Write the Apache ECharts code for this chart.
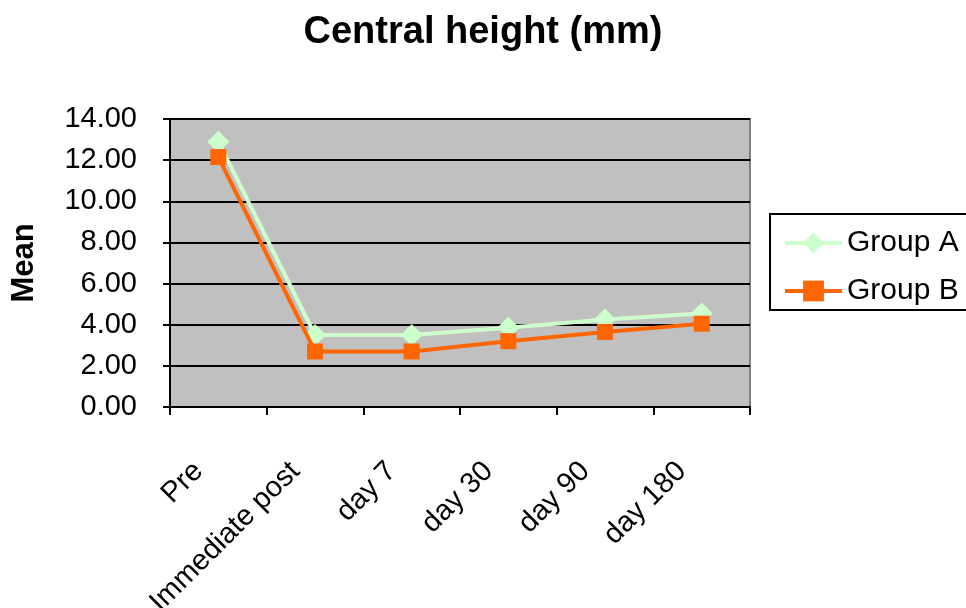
<!DOCTYPE html>
<html>
<head>
<meta charset="utf-8">
<script src="https://cdn.jsdelivr.net/npm/echarts@6/dist/echarts.min.js"></script>
<style>
  html, body { margin: 0; padding: 0; background: #ffffff; }
  #chart { width: 966px; height: 608px; }
</style>
</head>
<body>
<div id="chart"></div>
<script>
// Time points of the measurement
var categories = ['Pre', 'Immediate post', 'day 7', 'day 30', 'day 90', 'day 180'];
// Mean central height (mm) per group
var groupA = [12.9, 3.5, 3.5, 3.85, 4.25, 4.55];
var groupB = [12.15, 2.7, 2.7, 3.2, 3.65, 4.05];
var yTicks = { min: 0, max: 14, interval: 2 };

var chart = echarts.init(document.getElementById('chart'), null, { renderer: 'canvas' });
var FONT = 'Liberation Sans, Arial, sans-serif';

chart.setOption({
  backgroundColor: '#ffffff',
  animation: false,
  title: {
    text: 'Central height (mm)',
    left: 'center',
    top: 14,
    textStyle: { fontFamily: FONT, fontSize: 38, fontWeight: 'bold', color: '#000' },
    padding: 0
  },
  graphic: [{
    type: 'rect',
    shape: { x: 770, y: 214, width: 240, height: 96 },
    style: { fill: '#ffffff', stroke: '#000', lineWidth: 2 },
    z: 0
  }],
  legend: {
    orient: 'vertical',
    left: 783,
    top: 228,
    itemWidth: 57,
    itemHeight: 26,
    itemGap: 18,
    padding: 0,
    lineStyle: { width: 4 },
    textStyle: { fontFamily: FONT, fontSize: 30, color: '#000' },
    data: ['Group A', 'Group B'],
    z: 5
  },
  grid: {
    left: 170, right: 216, top: 119, bottom: 201,
    outerBoundsMode: 'none',
    containLabel: false,
    show: true,
    backgroundColor: '#C0C0C0',
    borderColor: '#808080',
    borderWidth: 2
  },
  xAxis: {
    type: 'category',
    data: categories,
    boundaryGap: true,
    axisLine: { lineStyle: { color: '#000', width: 2 } },
    axisTick: { show: true, length: 8, inside: false, lineStyle: { color: '#000', width: 2 } },
    axisLabel: {
      rotate: 45,
      margin: 40,
      interval: 0,
      hideOverlap: false,
      fontFamily: FONT,
      fontSize: 29,
      color: '#000',
      padding: [0, 28, 0, 0]
    }
  },
  yAxis: {
    type: 'value',
    min: yTicks.min,
    max: yTicks.max,
    interval: yTicks.interval,
    name: 'Mean',
    nameLocation: 'middle',
    nameGap: 130,
    nameRotate: 90,
    nameTextStyle: { fontFamily: FONT, fontSize: 31, fontWeight: 'bold', color: '#000' },
    axisLine: { show: true, lineStyle: { color: '#000', width: 2 } },
    axisTick: { show: true, length: 7, lineStyle: { color: '#000', width: 2 } },
    splitLine: { show: true, lineStyle: { color: '#000', width: 2 } },
    axisLabel: {
      margin: 33,
      fontFamily: FONT,
      fontSize: 29,
      color: '#000',
      formatter: function (v) { return v.toFixed(2); }
    }
  },
  series: [
    {
      name: 'Group A',
      type: 'line',
      data: groupA,
      symbol: 'diamond',
      symbolSize: [22, 22],
      lineStyle: { color: '#CCFFCC', width: 4 },
      itemStyle: { color: '#CCFFCC', borderWidth: 0 },
      z: 3
    },
    {
      name: 'Group B',
      type: 'line',
      data: groupB,
      symbol: 'rect',
      symbolSize: [16, 16],
      lineStyle: { color: '#FF6600', width: 4 },
      itemStyle: { color: '#FF6600', borderWidth: 0 },
      z: 4
    }
  ]
});
</script>
</body>
</html>
